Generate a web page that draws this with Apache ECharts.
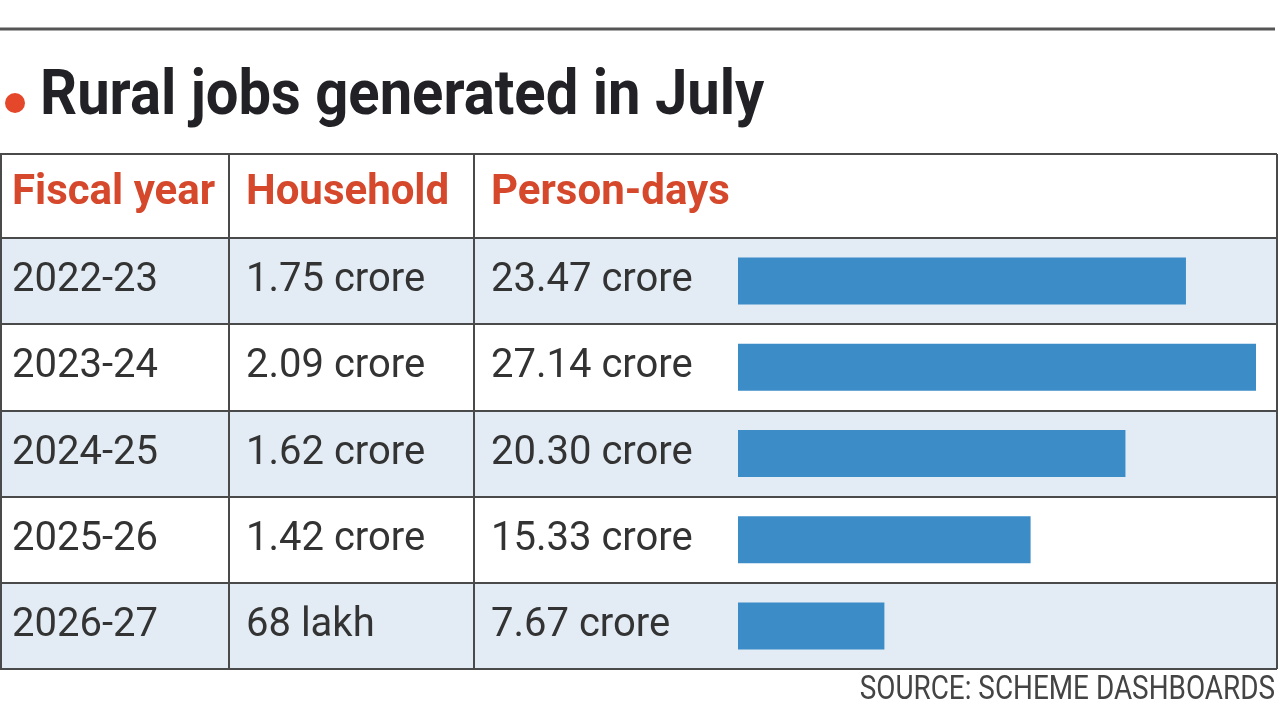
<!DOCTYPE html>
<html lang="en">
<head>
    <meta charset="UTF-8">
    <title>Rural jobs generated in July</title>
    <script src="https://cdn.jsdelivr.net/npm/echarts@6/dist/echarts.min.js"></script>
    <style>
        html, body { margin: 0; padding: 0; background: #fff; }
        #main { width: 1280px; height: 720px; }
    </style>
</head>
<body>
<div id="main"></div>
<script>
    // table data
    var years = ['2022-23', '2023-24', '2024-25', '2025-26', '2026-27'];
    var household = ['1.75 crore', '2.09 crore', '1.62 crore', '1.42 crore', '68 lakh'];
    var personDays = [23.47, 27.14, 20.30, 15.33, 7.67];
    var headers = ['Fiscal year', 'Household', 'Person-days'];

    var lineColor = '#4a4a4a';
    var myChart = echarts.init(document.getElementById('main'));

    // table rules sit above the row bands
    function rule(x1, y1, x2, y2, w, c) {
        return { type: 'line', z: 100, shape: { x1: x1, y1: y1, x2: x2, y2: y2 }, style: { stroke: c || lineColor, lineWidth: w || 2 } };
    }

    var option = {
        backgroundColor: '#ffffff',
        animation: false,
        grid: [
            // whole table body (row bands + text)
            { left: 0, right: 3, top: 238, height: 431 },
            // bars in the person-days column
            { left: 738, right: 24, top: 238, height: 431 }
        ],
        xAxis: [
            { gridIndex: 0, type: 'value', min: 0, max: 1, show: false },
            { gridIndex: 1, type: 'value', min: 0, max: Math.max.apply(null, personDays), show: false }
        ],
        yAxis: [
            {
                gridIndex: 0,
                type: 'category',
                inverse: true,
                data: years,
                axisLine: { show: true, lineStyle: { color: lineColor, width: 2 } },
                axisTick: { show: false },
                splitLine: { show: true, lineStyle: { color: lineColor, width: 2 } },
                splitArea: { show: true, areaStyle: { color: ['#e3ecf4', '#ffffff'] } },
                axisLabel: {
                    inside: true,
                    margin: 12,
                    formatter: function (v, i) {
                        return '{y|' + v + '}{h|' + household[i] + '}{p|' + personDays[i].toFixed(2) + ' crore}';
                    },
                    rich: {
                        y: { width: 234, fontFamily: 'Roboto', fontSize: 40, color: '#333' },
                        h: { width: 245, fontFamily: 'Roboto', fontSize: 40, color: '#333' },
                        p: { fontFamily: 'Roboto', fontSize: 40, color: '#333' }
                    }
                }
            },
            {
                gridIndex: 1,
                type: 'category',
                inverse: true,
                data: years,
                show: false
            }
        ],
        series: [
            {
                type: 'bar',
                xAxisIndex: 1,
                yAxisIndex: 1,
                data: personDays,
                barWidth: 47,
                itemStyle: { color: '#3c8cc8' }
            }
        ],
        graphic: [
            // top rule
            rule(0, 29, 1275, 29, 3, '#555'),
            // title
            { type: 'circle', shape: { cx: 15, cy: 103, r: 10 }, style: { fill: '#e5472b' } },
            {
                type: 'text', x: 40, y: 98, scaleX: 0.92,
                style: {
                    text: 'Rural jobs generated in July',
                    font: 'bold 63px Roboto',
                    fill: '#222226',
                    textVerticalAlign: 'middle'
                }
            },
            // table frame
            rule(0, 154, 1277, 154),
            rule(1, 154, 1, 669),
            rule(1277, 154, 1277, 669),
            rule(229, 154, 229, 669),
            rule(474, 154, 474, 669),
            // headers
            { type: 'text', x: 12, y: 193, style: { text: headers[0], font: 'bold 42px Roboto', fill: '#d5482c', textVerticalAlign: 'middle' } },
            { type: 'text', x: 246, y: 193, style: { text: headers[1], font: 'bold 42px Roboto', fill: '#d5482c', textVerticalAlign: 'middle' } },
            { type: 'text', x: 491, y: 193, style: { text: headers[2], font: 'bold 42px Roboto', fill: '#d5482c', textVerticalAlign: 'middle' } },
            // source
            {
                type: 'text', x: 1275, y: 690, scaleX: 0.82,
                style: {
                    text: 'SOURCE: SCHEME DASHBOARDS',
                    font: '34px Roboto',
                    fill: '#444',
                    textAlign: 'right',
                    textVerticalAlign: 'middle'
                }
            }
        ]
    };
    myChart.setOption(option);
</script>
</body>
</html>
